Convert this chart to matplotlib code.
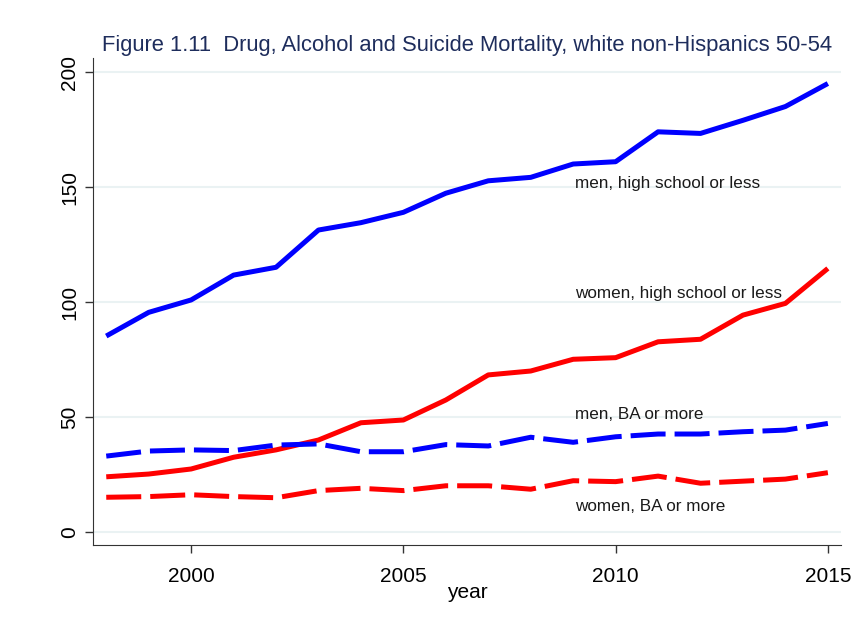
import matplotlib
matplotlib.use('Agg')
import matplotlib.pyplot as plt

# values
years = list(range(1998, 2016))
men_hs = [85.2, 95.5, 100.9, 111.7, 115.1, 131.3, 134.5, 139.0, 147.3,
          152.7, 154.2, 160.0, 161.0, 174.0, 173.3, 179.0, 185.0, 195.0]
women_hs = [24.0, 25.2, 27.4, 32.5, 35.7, 40.0, 47.5, 48.7, 57.4,
            68.3, 70.0, 75.1, 75.8, 82.7, 83.8, 94.3, 99.4, 114.6]
men_ba = [33.0, 35.2, 35.7, 35.4, 37.8, 38.3, 34.9, 34.9, 38.0,
          37.4, 41.2, 39.0, 41.4, 42.6, 42.6, 43.6, 44.3, 47.2]
women_ba = [15.1, 15.4, 16.2, 15.4, 14.9, 18.0, 19.0, 18.0, 20.1,
            20.1, 18.6, 22.3, 21.9, 24.3, 21.2, 22.1, 23.0, 25.8]

labels = ["men, high school or less", "women, high school or less",
          "men, BA or more", "women, BA or more"]
label_y = [151.7, 103.5, 50.9, 11.3]

plt.rcParams['font.family'] = ['Liberation Sans', 'DejaVu Sans']

fig = plt.figure(figsize=(8.54, 6.26), dpi=100)
ax = fig.add_axes([0.1085, 0.1294, 0.8763, 0.7776])

for y in [0, 50, 100, 150, 200]:
    ax.axhline(y, color='#eaf2f3', lw=1.5, zorder=0)

lw = 3.6
ax.plot(years, men_hs, color='#0000ff', lw=lw, solid_capstyle='butt')
ax.plot(years, women_hs, color='#ff0000', lw=lw, solid_capstyle='butt')
ax.plot(years, men_ba, color='#0000ff', lw=lw, dashes=(7, 1.8))
ax.plot(years, women_ba, color='#ff0000', lw=lw, dashes=(7, 1.8))

for txt, y in zip(labels, label_y):
    ax.text(2009.05, y, txt, fontsize=12.3, va='center', ha='left', color='#1a1a1a')

ax.set_xlim(1997.68, 2015.31)
ax.set_ylim(-5.65, 206)
ax.set_xticks([2000, 2005, 2010, 2015])
ax.set_yticks([0, 50, 100, 150, 200])
ax.tick_params(axis='both', labelsize=15, length=6, width=1, color='#333333')
ax.tick_params(axis='x', pad=10)
for lab in ax.get_yticklabels():
    lab.set_rotation(90)
    lab.set_va('center')
ax.set_xlabel('year', fontsize=15, labelpad=-2)

for s in ['top', 'right']:
    ax.spines[s].set_visible(False)
for s in ['left', 'bottom']:
    ax.spines[s].set_color('#333333')

ax.set_title("Figure 1.11  Drug, Alcohol and Suicide Mortality, white non-Hispanics 50-54",
             fontsize=15.8, color='#1e2d5c', pad=5)

fig.savefig('out.png', dpi=100)
